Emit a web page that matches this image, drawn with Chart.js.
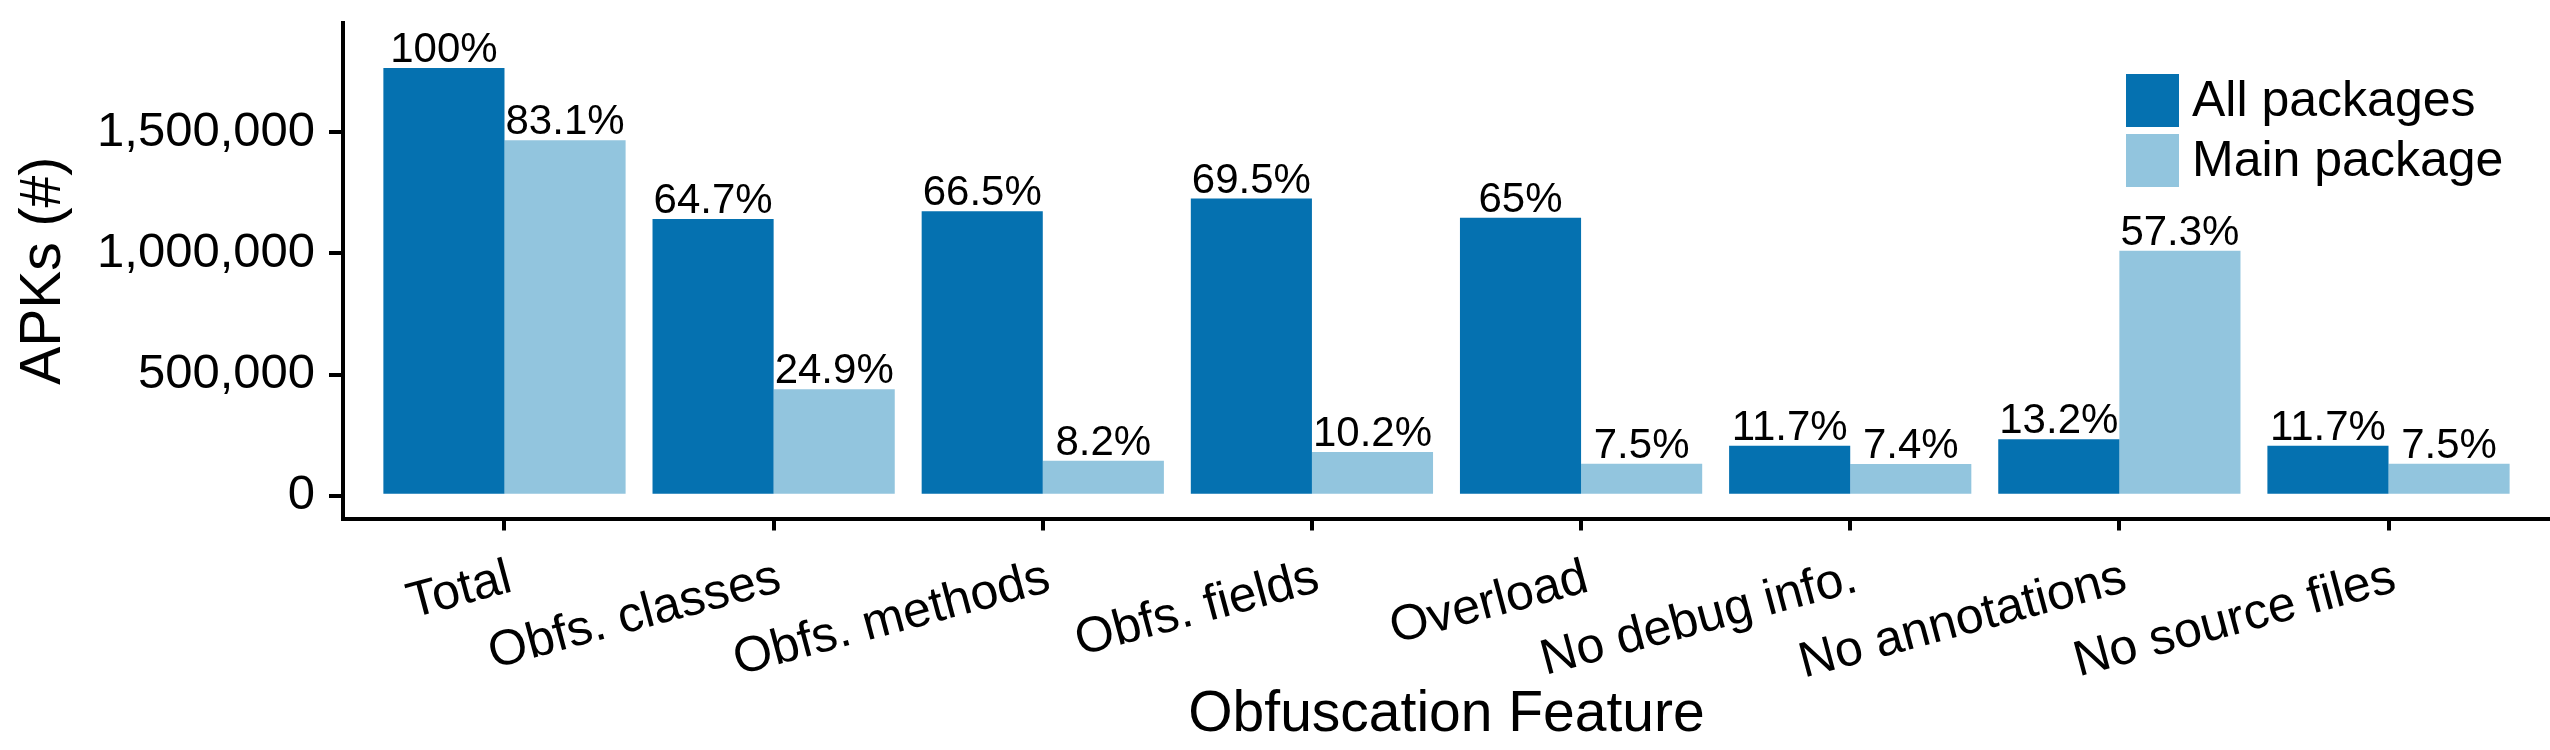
<!DOCTYPE html>
<html><head><meta charset="utf-8">
<script src="https://cdn.jsdelivr.net/npm/chart.js@4.4.1/dist/chart.umd.min.js"></script>
<style>html,body{margin:0;padding:0;background:#fff}#wrap{width:2550px;height:750px}</style>
</head><body><div id="wrap"><canvas id="c" width="2550" height="750"></canvas></div>
<script>
const categories = ['Total','Obfs. classes','Obfs. methods','Obfs. fields','Overload','No debug info.','No annotations','No source files'];
const allPackages = [1764000, 1141300, 1173100, 1226000, 1146600, 206400, 232800, 206400];
const mainPackage = [1465900, 439200, 144600, 179900, 132300, 130500, 1010800, 132300];
const allPctLabels = ['100%','64.7%','66.5%','69.5%','65%','11.7%','13.2%','11.7%'];
const mainPctLabels = ['83.1%','24.9%','8.2%','10.2%','7.5%','7.4%','57.3%','7.5%'];
const yTickValues = [0, 500000, 1000000, 1500000];
const seriesNames = ['All packages','Main package'];
const seriesColors = ['#0571b0','#92c5de'];

const FONT = "'Liberation Sans', Arial, Helvetica, sans-serif";
Chart.defaults.font.family = FONT;
Chart.defaults.color = '#000';

const pctLabels = [allPctLabels, mainPctLabels];

const barLabelPlugin = {
  id: 'barLabels',
  afterDatasetsDraw(chart) {
    const ctx = chart.ctx;
    ctx.save();
    ctx.font = '42px ' + FONT;
    ctx.fillStyle = '#000';
    ctx.textAlign = 'center';
    ctx.textBaseline = 'alphabetic';
    chart.data.datasets.forEach((ds, di) => {
      const meta = chart.getDatasetMeta(di);
      meta.data.forEach((bar, i) => {
        ctx.fillText(pctLabels[di][i], bar.x, bar.y - 6);
      });
    });
    ctx.restore();
  }
};

const legendPlugin = {
  id: 'customLegend',
  afterDraw(chart) {
    const ctx = chart.ctx;
    ctx.save();
    const x0 = 2126, size = 53, gap = 7, y0 = 74;
    ctx.font = '50px ' + FONT;
    ctx.textAlign = 'left';
    ctx.textBaseline = 'middle';
    chart.data.datasets.forEach((ds, di) => {
      const y = y0 + di * (size + gap);
      ctx.fillStyle = ds.backgroundColor;
      ctx.fillRect(x0, y, size, size);
      ctx.fillStyle = '#000';
      ctx.fillText(ds.label, x0 + size + 13, y + size / 2 + 2);
    });
    ctx.restore();
  }
};

new Chart(document.getElementById('c'), {
  type: 'bar',
  data: {
    datasets: [
      { label: seriesNames[0], data: allPackages.map((v, i) => ({x: i, y: v})), backgroundColor: seriesColors[0], borderWidth: 0 },
      { label: seriesNames[1], data: mainPackage.map((v, i) => ({x: i, y: v})), backgroundColor: seriesColors[1], borderWidth: 0 }
    ]
  },
  options: {
    responsive: false,
    animation: false,
    devicePixelRatio: 1,
    layout: { padding: { top: 23, right: 0, bottom: 0, left: 0 } },
    datasets: { bar: { categoryPercentage: 0.9, barPercentage: 1.0 } },
    plugins: { legend: { display: false }, tooltip: { enabled: false } },
    scales: {
      x: {
        type: 'linear',
        offset: false,
        min: -0.6, max: 7.6,
        afterBuildTicks: s => { s.ticks = categories.map((c, i) => ({value: i})); },
        afterFit: s => { s.height = 231.5; s.paddingLeft = 0; s.paddingRight = 0; },
        ticks: {
          autoSkip: false, minRotation: 15, maxRotation: 15,
          font: { size: 50 }, color: '#000', padding: 18, labelOffset: 6,
          callback: v => categories[v]
        },
        grid: { display: true, offset: false, drawOnChartArea: false, drawTicks: true, tickLength: 12, tickWidth: 4, tickColor: '#000', lineWidth: 4, color: '#000' },
        border: { display: true, width: 4, color: '#000' },
        title: { display: true, text: 'Obfuscation Feature', font: { size: 57, lineHeight: 1 }, color: '#000', padding: { top: 0, bottom: 6 } }
      },
      y: {
        type: 'linear',
        min: -94000, max: 1950000,
        afterBuildTicks: s => { s.ticks = yTickValues.map(v => ({value: v})); },
        afterFit: s => { s.width = 343; s.paddingTop = 0; s.paddingBottom = 0; },
        ticks: { font: { size: 49 }, color: '#000', padding: 14, callback: v => v.toLocaleString('en-US') },
        grid: { display: true, drawOnChartArea: false, drawTicks: true, tickLength: 14, tickWidth: 4, tickColor: '#000', lineWidth: 4, color: '#000' },
        border: { display: true, width: 4, color: '#000' },
        title: { display: true, text: 'APKs (#)', font: { size: 57, lineHeight: 1 }, color: '#000', padding: { top: 16, bottom: 0 } }
      }
    }
  },
  plugins: [barLabelPlugin, legendPlugin]
});
</script></body></html>
